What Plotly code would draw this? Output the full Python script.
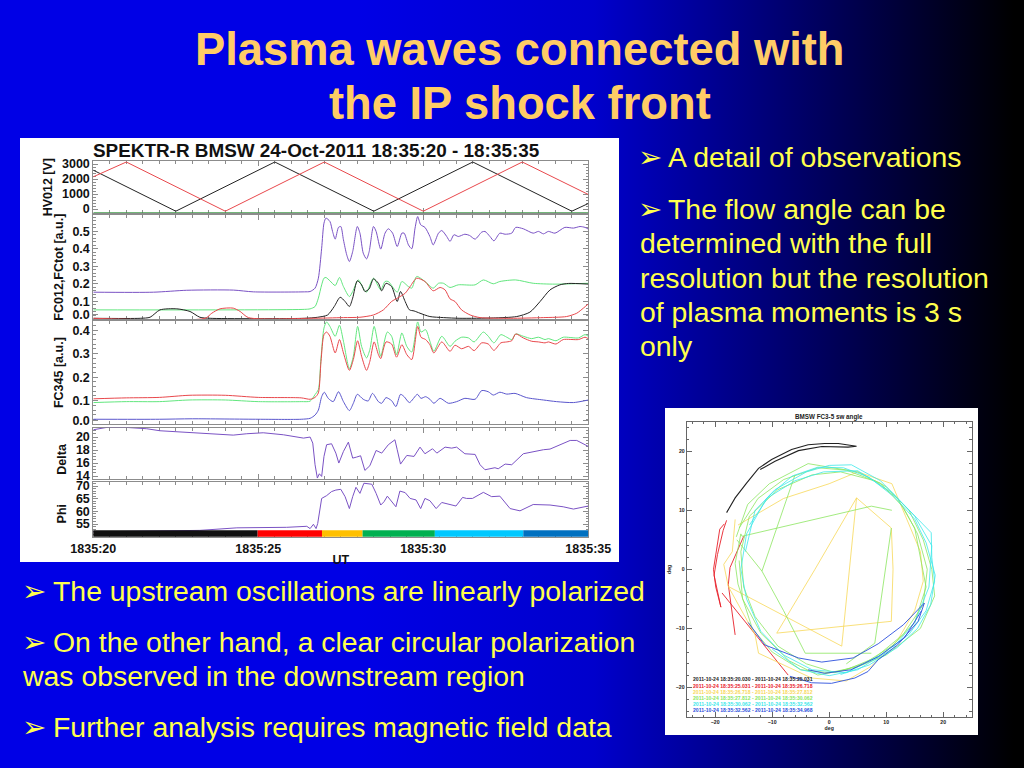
import plotly.graph_objects as go

# ---------- HV012 panel ----------
hv_black_t = [20, 22.5, 25.5, 28.5, 31.5, 34.5, 35]
hv_black_v = [2587, -147, 3133, -147, 3133, -147, 367]
hv_red_t = [20, 21, 24, 27, 30, 33, 35]
hv_red_v = [2147, 3133, -147, 3133, -147, 3133, 967]
hv_green_t = [20, 35]
hv_green_v = [-253, -253]

# ---------- FC012 / FCtot panel ----------
tot_t = [20, 21.82, 22.83, 24.25, 24.85, 26.4,
         26.57, 26.72, 26.82, 26.92, 26.99, 27.05, 27.17, 27.25, 27.33, 27.43, 27.50, 27.58, 27.68, 27.76,
         27.86, 28.00, 28.08, 28.18, 28.28, 28.36, 28.49, 28.57, 28.71, 28.84, 28.94, 29.07, 29.21, 29.35,
         29.42, 29.55, 29.65, 29.75, 29.83, 29.92, 30.05, 30.20, 30.30, 30.46, 30.56, 30.71, 30.81, 30.93,
         31.06, 31.26, 31.40, 31.57, 31.77, 31.87, 32.02, 32.14, 32.32, 32.48, 32.68, 32.80, 33.03, 33.33,
         33.49, 33.64, 33.79, 33.99, 34.29, 34.55, 34.75, 34.90, 35.00]
tot_v = [.153, .153, .164, .165, .155, .155,
         .157, .176, .233, .404, .547, .576, .557, .500, .456, .523, .528, .452, .366, .328,
         .385, .528, .490, .376, .343, .385, .528, .500, .399, .490, .515, .490, .414, .490,
         .490, .423, .401, .519, .585, .538, .523, .471, .423, .490, .505, .471, .443, .481,
         .471, .484, .477, .456, .496, .500, .471, .446, .490, .484, .490, .523, .515, .490,
         .500, .486, .500, .490, .523, .519, .528, .523, .513]

fc_green_t = [20, 26.4, 26.57, 26.72, 26.82, 26.92, 26.99, 27.05, 27.17, 27.33, 27.46, 27.58, 27.76, 27.86, 28.03,
              28.18, 28.28, 28.49, 28.71, 28.84, 28.94, 29.21, 29.35, 29.55, 29.65, 29.80, 30.05, 30.30, 30.46,
              30.61, 30.81, 31.06, 31.57, 31.82, 32.12, 32.32, 32.80, 33.33, 33.99, 35.0]
fc_green_v = [.052, .055, .058, .071, .119, .195, .233, .237, .218, .191, .237, .185, .128, .157, .223,
              .176, .153, .233, .166, .214, .214, .153, .214, .185, .176, .243, .214, .176, .204,
              .204, .180, .195, .195, .223, .201, .214, .223, .204, .199, .204]

fc_black_t = [20, 21.42, 21.72, 22.02, 22.53, 22.93, 23.23, 23.54, 26.4, 26.8, 27.1, 27.3, 27.48, 27.63, 27.76,
              27.86, 28.00, 28.13, 28.23, 28.36, 28.49, 28.64, 28.74, 28.87, 29.04, 29.21, 29.31, 29.45, 29.58,
              29.72, 29.90, 30.20, 30.61, 31.11, 32.12, 32.83, 33.23, 33.54, 33.84, 34.14, 34.40, 35.0]
fc_black_v = [.004, .004, .010, .052, .058, .043, .010, .004, .004, .010, .023, .071, .124, .100, .071,
              .119, .218, .195, .157, .172, .229, .204, .161, .204, .185, .100, .157, .100, .052,
              .046, .033, .014, .008, .004, .006, .014, .039, .100, .166, .195, .203, .199]

fc_red_t = [20, 23.39, 23.59, 23.84, 24.24, 24.45, 24.70, 26.57, 27.58, 28.08, 28.49, 28.79, 29.04, 29.24, 29.45,
            29.60, 29.80, 30.05, 30.30, 30.51, 30.66, 30.81, 30.96, 31.16, 31.42, 31.72, 32.63, 33.64, 34.34,
            34.65, 34.85, 35.0]
fc_red_v = [.004, .004, .033, .058, .062, .043, .008, .004, .008, .010, .023, .052, .100, .122, .147,
            .185, .233, .214, .161, .180, .166, .115, .100, .052, .023, .008, .004, .008, .014,
            .033, .062, .086]

# ---------- FC345 panel ----------
c3_red_t = [20, 21, 22, 22.9, 24, 25, 26.3,
            26.57, 26.72, 26.82, 26.90, 26.99, 27.07, 27.17, 27.33, 27.46, 27.58, 27.76, 27.88, 28.01, 28.13,
            28.28, 28.38, 28.51, 28.64, 28.71, 28.87, 29.04, 29.19, 29.35, 29.50, 29.65, 29.83, 29.93, 30.07,
            30.20, 30.32, 30.56, 30.81, 30.96, 31.16, 31.37, 31.54, 31.77, 31.97, 32.14, 32.35, 32.53, 32.68,
            32.80, 33.03, 33.28, 33.49, 33.69, 33.79, 34.02, 34.24, 34.70, 34.90, 35.0]
c3_red_v = [.108, .112, .114, .123, .123, .114, .112,
            .106, .114, .133, .267, .381, .392, .374, .303, .360, .303, .229, .275, .355, .289,
            .229, .267, .350, .296, .279, .350, .341, .285, .338, .296, .275, .416, .370, .360,
            .338, .303, .350, .310, .336, .321, .331, .313, .346, .341, .314, .346, .350, .355,
            .384, .367, .353, .350, .346, .350, .341, .360, .360, .370, .364]

c3_green_t = [20, 21, 22, 22.9, 24, 25, 26.3,
              26.57, 26.72, 26.82, 26.90, 26.99, 27.07, 27.17, 27.33, 27.46, 27.58, 27.76, 27.88, 28.01, 28.13,
              28.28, 28.38, 28.51, 28.64, 28.71, 28.91, 29.04, 29.19, 29.35, 29.50, 29.65, 29.83, 29.93, 30.07,
              30.20, 30.32, 30.56, 30.81, 30.96, 31.16, 31.37, 31.54, 31.82, 31.97, 32.14, 32.35, 32.53, 32.68,
              32.80, 33.03, 33.28, 33.49, 33.69, 33.79, 34.02, 34.24, 34.70, 34.90, 35.0]
c3_green_v = [.092, .096, .096, .103, .103, .096, .096,
              .098, .126, .147, .282, .409, .435, .416, .374, .421, .353, .236, .289, .416, .331,
              .282, .317, .416, .331, .289, .392, .374, .296, .388, .331, .307, .435, .392, .402,
              .353, .310, .374, .331, .353, .370, .367, .350, .392, .374, .346, .381, .370, .360,
              .384, .374, .364, .370, .360, .364, .355, .370, .367, .381, .374]

c3_blue_t = [20, 22, 23, 25, 26.3,
             26.57, 26.72, 26.82, 26.92, 27.00, 27.12, 27.27, 27.43, 27.58, 27.76, 27.88, 28.00, 28.18, 28.33,
             28.46, 28.64, 28.74, 28.87, 29.04, 29.17, 29.31, 29.42, 29.58, 29.82, 29.93, 30.07, 30.20, 30.32,
             30.51, 30.76, 31.01, 31.26, 31.57, 31.77, 31.97, 32.12, 32.32, 32.53, 32.78, 33.13, 33.64, 34.04,
             34.55, 35.0]
c3_blue_v = [.021, .021, .023, .021, .021,
             .025, .039, .060, .117, .136, .110, .096, .138, .096, .058, .089, .127, .106, .099,
             .131, .096, .089, .113, .100, .075, .127, .117, .092, .127, .110, .117, .106, .089,
             .110, .089, .096, .110, .106, .143, .138, .124, .136, .128, .131, .113, .103, .096,
             .092, .103]

# ---------- Delta panel ----------
delta_t = [20, 20.4, 21.01, 21.62, 22.02, 22.83, 23.74, 24.24, 24.65, 25.15, 25.76, 26.37,
           26.57, 26.65, 26.72, 26.79, 26.85, 26.92, 26.99, 27.07, 27.22, 27.35, 27.44, 27.58, 27.73, 27.86,
           27.98, 28.10, 28.23, 28.38, 28.57, 28.74, 28.94, 29.14, 29.21, 29.31, 29.50, 29.72, 29.90, 30.05,
           30.28, 30.41, 30.66, 30.86, 31.01, 31.26, 31.57, 31.72, 31.87, 32.17, 32.27, 32.48, 32.68, 33.03,
           33.64, 33.84, 34.45, 34.65, 35.0]
delta_v = [21.12, 21.48, 21.48, 21.28, 20.97, 20.76, 20.46, 20.30, 20.51, 20.66, 20.35, 19.84,
           20.0, 19.07, 15.74, 13.69, 14.35, 13.94, 17.02, 18.82, 18.97, 17.53, 16.0, 17.79, 19.22, 16.76,
           16.92, 17.12, 14.87, 15.58, 17.94, 17.53, 18.82, 19.58, 18.05, 15.84, 17.17, 17.02, 18.45, 17.43,
           18.2, 17.53, 18.45, 18.3, 18.45, 17.43, 17.33, 15.74, 14.97, 15.28, 15.12, 15.84, 15.74, 17.43,
           18.05, 18.15, 19.48, 19.48, 18.56]

# ---------- Phi panel ----------
phi_t = [20, 23.23, 24.35, 25.0, 25.86, 26.47, 26.57, 26.67, 26.75, 26.80, 26.92,
         27.07, 27.22, 27.35, 27.50, 27.63, 27.76, 27.86, 27.96, 28.08, 28.20, 28.44, 28.57, 28.71, 28.81,
         28.91, 29.04, 29.17, 29.29, 29.45, 29.60, 29.78, 29.92, 30.05, 30.20, 30.39, 30.56, 30.76, 30.99,
         31.19, 31.31, 31.49, 31.82, 32.07, 32.32, 32.63, 32.93, 33.33, 33.84, 34.24, 34.55, 35.0]
phi_v = [51.9, 52.5, 53.5, 53.5, 53.7, 54.1, 53.2, 54.9, 53.2, 55.2, 65.1,
         66.2, 67.8, 68.4, 68.7, 65.8, 61.1, 65.8, 69.5, 67.1, 71.1, 70.7, 67.1, 62.5, 63.8,
         66.0, 63.8, 61.8, 68.0, 67.4, 65.1, 64.5, 61.1, 65.1, 64.2, 61.1, 63.5, 62.9, 62.1,
         65.5, 65.1, 65.1, 67.5, 65.8, 66.0, 61.1, 60.2, 62.7, 62.5, 61.8, 60.9, 62.1]

# ---------- interval colour bar ----------
bar_start = [19.87, 24.98, 26.93, 28.16, 30.35, 33.03]
bar_end = [24.98, 26.93, 28.16, 30.35, 33.03, 35.0]
bar_colors = ["#111111", "#FF0000", "#FFC000", "#00B050", "#00C8FF", "#0070C0"]
bar_level = 51.2

# ---------- flow angle hodogram (deg) ----------
ang_black_x = [-18, -16.5, -14.5, -12.4, -10.1, -6.6, -3.7, -0.8, 1.6, 4.8, 3.3, -1.3, -5.4, -9.5, -12.1]
ang_black_y = [9.6, 12.1, 14.6, 17.1, 18.6, 20.3, 21.1, 21.3, 21.3, 20.85, 20.7, 20.8, 20.1, 18.3, 16.9]
ang_red_x = [-18, -18.6, -19.6, -20.2, -19.0, -19.9, -20.3, -19.2, -18.4, None, -15, -17.4, -17.7, -16.5, None,
             -18.8, -7.2]
ang_red_y = [8.3, 6.6, 2.5, -1, -6.4, -3, 0, 6.8, 7.7, None, 5.6, 0.3, -2.6, -11.1, None, -4, -17.9]
ang_orange_x = [-16.5, -17, -18.5, -17.7, -13, -12.4, -3.1, 3, 7.4, 12, 15, 16.5, 16, 13, 11, 5, 0, -8, -16,
                None, 4.8, -2.5, -9.2, 10.9, 11.2, 10.9, 4.8, 3.6, 2.2, -17.7]
ang_orange_y = [8.45, 3, 0.85, -2.9, -11.1, -14.2, -18.4, -18.9, -16.4, -12, -7, -2, 3, 10, 14.5, 16.5, 14.5, 12, 7.5,
                None, 12.1, 0, -10.8, -8.8, 0, 7, 12.1, 0, -13, -2.9]
ang_green_x = [-16.3, -14.3, -10.5, -3.7, 0, 5, 10, 14, 16.5, 18, 18.5, 16, 10, 5, 0, -5, -10, -13.5, -16, -16.5,
               -15.5, -15.3, 7.4, 11, None, -16.2, -11.8, -8, -4.2, 7.4, None, -11.8, -6, None, 10.9, 8, 3, None,
               -14, -9, -3, 2, 8, 12, 15, 16, 17, 15, 11, 6, 1, -4, -9, -13, -15, -15.5, -14, None,
               -15.8, -12.5, -8, -2, 3, 9, 13, 15.5, 17.2, 16.5, 13, 8, 3, -2, -7, -12, -15.2, -15.8]
ang_green_y = [5.5, 11, 14.5, 17.9, 17.3, 16.5, 14, 10, 5, 0, -4.5, -10, -14.5, -16.5, -17.5, -17, -14, -10, -2.5, 1,
               6, 5.6, 10.7, 10, None, 5, -0.3, -7, -14.2, -14.2, None, -0.3, 16, None, 7, -12.5, -16, None,
               9, 13.5, 16, 16.5, 15, 12, 7, 2, -3, -9, -13, -16, -17.5, -16, -13, -8, -3, 3, 9, None,
               7, 12, 15.2, 17.2, 16.8, 14.6, 10.5, 6, 0, -6, -11, -15, -17, -17.9, -15.5, -10.8, -5, 1.5]
ang_cyan_x = [-14.7, -13, -9.5, -4, 0, 3.9, 9, 13, 17.9, 18, 18.5, 17, 14, 9, 3, -3, -8, -12, -14.5, -15.5, -14.5,
              -11, -6, -1, 5, 11, 15, 18, 17.5, 15, 11, 5, 0, -5, -10, None,
              -14, -10.5, -6.5, -2, 2.5, 7, 11.5, 15, 17, 18.6, 17.8, 15.5, 12, 7, 2]
ang_cyan_y = [3, 10, 13.5, 16.5, 17.6, 17.7, 15, 11, 6.2, 2, -2, -7, -11, -14.5, -17.5, -17, -14.5, -10.5, -5, 0, 6,
              12, 15, 16.5, 16.7, 13, 9, 4, -3, -9, -13.5, -17, -18, -17, -13.5, None,
              7.5, 12.5, 15.8, 17.3, 17.2, 15.6, 12.2, 8.5, 4.5, -1, -6, -10, -13.2, -16.2, -17.8]
ang_blue_x = [-14.2, -11.3, -5.4, -1.3, 4.2, 8.6, 13, 15, 16.7, 15.6, 12, 8.6, 6.8, 4.5, 0.4, -3.1, -6.9, None,
              -3.7, -0.8, 3.8, 8.6, 13.2, 16.2]
ang_blue_y = [-9, -12.8, -15, -15.7, -15, -12.6, -9.4, -7.4, -5.7, -8.8, -12.8, -15.3, -17.3, -18.4, -19.3, -19.2,
              -18.1, None, -17, -17.6, -17, -14.8, -11.6, -7]
start_box = ([-11.6], [17.4])
mid_star = ([10], [8.1])
end_tri = ([7.5], [-17.7])

ang_legend = ["2011-10-24 18:35:20.030 - 2011-10-24 18:35:25.031",
              "2011-10-24 18:35:25.031 - 2011-10-24 18:35:26.718",
              "2011-10-24 18:35:26.718 - 2011-10-24 18:35:27.812",
              "2011-10-24 18:35:27.812 - 2011-10-24 18:35:30.062",
              "2011-10-24 18:35:30.062 - 2011-10-24 18:35:32.562",
              "2011-10-24 18:35:32.562 - 2011-10-24 18:35:34.968"]
ang_colors = ["#222222", "#E8202A", "#F8D858", "#8CE660", "#3CE8EA", "#2C50DC"]

# ---------- slide text ----------
slide_title = ["Plasma waves connected with", "the IP shock front"]
bullets = [
    (668, 157, "A detail of observations", 641),
    (668, 209, "The flow angle can be", 641),
    (640, 243, "determined with the full", None),
    (640, 278, "resolution but the resolution", None),
    (640, 312, "of plasma moments is 3 s", None),
    (640, 346, "only", None),
    (53, 591, "The upstream oscillations are linearly polarized", 25),
    (53, 642, "On the other hand, a clear circular polarization", 25),
    (22, 676, "was observed in the downstream region", None),
    (53, 727, "Further analysis requires magnetic field data", 25),
]

W, H = 1024, 768
px = lambda x: x / W
py = lambda y: 1 - y / H

SANS = "Liberation Sans"
BOLD = dict(family=SANS, size=12.5, color="#111111", weight="bold")
SMALL = dict(family=SANS, size=5.2, color="#222222", weight="bold")
FRAME = "#8c8c8c"
C_PURPLE, C_GREEN, C_RED, C_BLUE, C_BLACK = "#7A52C4", "#62E67E", "#E8484C", "#5A56CC", "#222222"

fig = go.Figure()
annotations = []
axes = {}

panels = [
    # top, bottom px, y range, major ticks, labels, minor dtick, title
    (161.3, 213.0, (-267, 3180), [0, 1000, 2000, 3000], ["0", "1000", "2000", "3000"], 200, "HV012 [V]"),
    (215.3, 319.0, (0, .592), [.023, .1, .2, .3, .4, .5], ["0.0", "0.1", "0.2", "0.3", "0.4", "0.5"], .02, "FC012,FCtot [a.u.]"),
    (321.0, 424.2, (0, .439), [.015, .1, .2, .3, .4], ["0.0", "0.1", "0.2", "0.3", "0.4"], .02, "FC345 [a.u.]"),
    (427.7, 479.3, (13.5, 21.44), [14, 16, 18, 20], ["14", "16", "18", "20"], .5, None),
    (481.7, 536.7, (50, 71.7), [55, 60, 65, 70], ["55", "60", "65", "70"], 1, None),
]

for i, (top, bot, yr, tv, tt, mn, title) in enumerate(panels, start=1):
    last = i == len(panels)
    xname, yname = f"xaxis{i}", f"yaxis{i}"
    axes[xname] = dict(
        domain=[px(93.3), px(588.3)], range=[20, 35], anchor=f"y{i}", automargin=False,
        tickvals=[20, 25, 30, 35], ticktext=["1835:20", "1835:25", "1835:30", "1835:35"],
        showticklabels=last, ticks="inside", ticklen=5, tickcolor=FRAME, tickwidth=1,
        minor=dict(dtick=.5, tick0=20, ticks="inside", ticklen=3, tickcolor=FRAME, tickwidth=1),
        showgrid=False, zeroline=False, showline=True, linecolor=FRAME, linewidth=1, mirror="allticks",
        tickfont=BOLD, layer="below traces",
    )
    if last:
        axes[xname]["title"] = dict(text="UT", font=BOLD, standoff=0)
    axes[yname] = dict(
        domain=[py(bot), py(top)], range=list(yr), anchor=f"x{i}", automargin=False,
        tickvals=tv, ticktext=tt, ticks="inside", ticklen=5, tickcolor=FRAME, tickwidth=1,
        minor=dict(dtick=mn, ticks="inside", ticklen=2.5, tickcolor=FRAME, tickwidth=1),
        showgrid=False, zeroline=False, showline=True, linecolor=FRAME, linewidth=1, mirror="allticks",
        tickfont=BOLD, layer="below traces",
    )
    if title:
        axes[yname]["title"] = dict(text=title, font=BOLD, standoff=6)

# Right hand hodogram axes
axes["xaxis6"] = dict(
    domain=[px(686.7), px(971.7)], range=[-25, 25], anchor="y6", tickvals=[-20, -10, 0, 10, 20], automargin=False,
    ticks="inside", ticklen=5, tickcolor="#666666", minor=dict(dtick=2, ticks="inside", ticklen=2.5, tickcolor="#666666"),
    showgrid=False, zeroline=False, showline=True, linecolor="#666666", linewidth=1, mirror="allticks",
    tickfont=SMALL, title=dict(text="deg", font=SMALL, standoff=2),
)
axes["yaxis6"] = dict(
    domain=[py(717), py(421.7)], range=[-25, 25], anchor="x6", tickvals=[-20, -10, 0, 10, 20], automargin=False,
    ticks="inside", ticklen=5, tickcolor="#666666", minor=dict(dtick=2, ticks="inside", ticklen=2.5, tickcolor="#666666"),
    showgrid=False, zeroline=False, showline=True, linecolor="#666666", linewidth=1, mirror="allticks",
    tickfont=SMALL, title=dict(text="deg", font=SMALL, standoff=4),
)


def line(x, y, color, ax, shape="linear", width=1.0, clip=True):
    fig.add_trace(go.Scatter(x=x, y=y, mode="lines", xaxis=f"x{ax}", yaxis=f"y{ax}",
                             line=dict(color=color, width=width, shape=shape, smoothing=0.7),
                             cliponaxis=clip, hoverinfo="skip"))


line(hv_green_t, hv_green_v, "#3C9A46", 1)
line(hv_black_t, hv_black_v, C_BLACK, 1)
line(hv_red_t, hv_red_v, C_RED, 1)

line(tot_t, tot_v, C_PURPLE, 2, "spline")
line(fc_green_t, fc_green_v, C_GREEN, 2, "spline")
line(fc_black_t, fc_black_v, C_BLACK, 2, "spline")
line(fc_red_t, fc_red_v, C_RED, 2, "spline")

line(c3_green_t, c3_green_v, C_GREEN, 3, "spline")
line(c3_red_t, c3_red_v, C_RED, 3, "spline")
line(c3_blue_t, c3_blue_v, C_BLUE, 3, "spline")

line(delta_t, delta_v, C_PURPLE, 4)
line(phi_t, phi_v, C_PURPLE, 5)

for s, e, col in zip(bar_start, bar_end, bar_colors):
    line([s, e], [bar_level, bar_level], col, 5, width=6.7, clip=False)

for (xs, ys), col, wid in zip(
    [(ang_black_x, ang_black_y), (ang_red_x, ang_red_y), (ang_orange_x, ang_orange_y),
     (ang_green_x, ang_green_y), (ang_cyan_x, ang_cyan_y), (ang_blue_x, ang_blue_y)],
    ang_colors, [1.1, 0.9, 0.8, 0.8, 0.8, 0.9]):
    line(xs, ys, col, 6, width=wid)

for (xs, ys), sym, size in [(start_box, "square-open", 9), (mid_star, "asterisk-open", 8), (end_tri, "triangle-up-open", 11)]:
    fig.add_trace(go.Scatter(x=xs, y=ys, mode="markers", xaxis="x6", yaxis="y6", hoverinfo="skip",
                             marker=dict(symbol=sym, size=size, color="rgba(0,0,0,0)",
                                         line=dict(color="#333333", width=0.8))))

# --- text ---
def note(x, y, text, font, xanchor="left", yanchor="middle", angle=0):
    annotations.append(dict(x=px(x), y=py(y), xref="paper", yref="paper", text=text, showarrow=False,
                            xanchor=xanchor, yanchor=yanchor, font=font, textangle=angle,
                            borderpad=0, borderwidth=0))


title_font = dict(family=SANS, size=45.3, color="#FFCC66", weight="bold")
note(520, 50, slide_title[0], title_font, "center")
note(520, 104, slide_title[1], title_font, "center")

text_font = dict(family=SANS, size=28.4, color="#FFFF4D")
arrow_font = dict(family="DejaVu Sans", size=29, color="#FFFF4D")
for x, y, txt, ax in bullets:
    note(x, y, txt, text_font)
    if ax is not None:
        note(ax - 3, y, "\u27a2", arrow_font)

note(93, 150.5, "SPEKTR-R BMSW 24-Oct-2011 18:35:20 - 18:35:35",
     dict(family=SANS, size=18.9, color="#111111", weight="bold"))
note(61.7, 459, "Delta", BOLD, "center", angle=-90)
note(61.7, 513.7, "Phi", BOLD, "center", angle=-90)
note(829.3, 416.5, "BMSW FC3-5 sw angle", dict(family=SANS, size=6.3, color="#222222", weight="bold"), "center")

legend_rows = [679.3, 685.7, 691.7, 697.7, 703.7, 709.7]
for row, txt, col in zip(legend_rows, ang_legend, ang_colors):
    note(692.7, row, txt, dict(family=SANS, size=5.1, color=col, weight="bold"))

panels_bg = [dict(type="rect", xref="paper", yref="paper", layer="below", fillcolor="white", line=dict(width=0),
                  x0=px(a), x1=px(b), y0=py(d), y1=py(c))
             for a, b, c, d in [(20, 619, 138, 562), (665, 978, 408, 735)]]

fig.update_layout(
    width=W, height=H, margin=dict(l=0, r=0, t=0, b=0, pad=0), autosize=False,
    paper_bgcolor="rgba(0,0,0,0)", plot_bgcolor="white", showlegend=False,
    shapes=panels_bg, annotations=annotations, **axes,
)

fig.write_html(
    "out.html",
    config={"displayModeBar": False},
    post_script=("document.documentElement.style.margin='0';"
                 "document.body.style.margin='0';"
                 "document.body.style.minHeight='768px';"
                 "document.body.style.background="
                 "'linear-gradient(90deg,#0000E6 0%,#0000E6 35%,#0000CC 58%,#000000 99%)';"),
)
